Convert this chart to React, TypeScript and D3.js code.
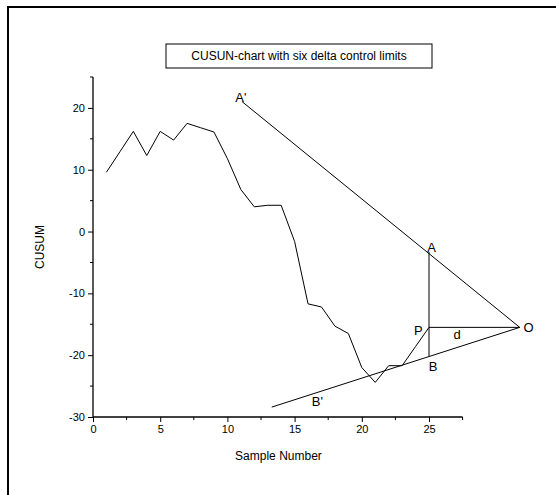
import React, { useEffect, useRef } from 'react'
import * as d3 from 'd3'

// CUSUM values, samples 1..25
const samples = [1, 2, 3, 4, 5, 6, 7, 8, 9, 10, 11, 12, 13, 14, 15, 16, 17, 18, 19, 20, 21, 22, 23, 24, 25]
const cusum = [9.6, 12.9, 16.2, 12.3, 16.2, 14.8, 17.5, 16.8, 16.1, 11.8, 6.8, 4.0, 4.25, 4.25, -1.6, -11.7, -12.2, -15.3, -16.5, -22.0, -24.4, -21.7, -21.7, -18.6, -15.5]

// V-mask geometry (data coords)
const maskNames = ['A\'', 'B\'', 'O', 'P', 'A', 'B']
const maskX = [11.1, 13.3, 31.75, 25, 25, 25]
const maskY = [21.0, -28.4, -15.5, -15.5, -3.3, -20.2]
const maskSegments = [['A\'', 'O'], ['B\'', 'O'], ['P', 'O'], ['A', 'B']]

// annotation text (data coords of label centre)
const labelText = ['A\'', 'A', 'P', 'd', 'O', 'B', 'B\'']
const labelX = [11.0, 25.2, 24.2, 27.1, 32.4, 25.3, 16.7]
const labelY = [21.7, -2.6, -16.0, -16.7, -15.55, -21.9, -27.5]

const xMajor = [0, 5, 10, 15, 20, 25]
const xMinor = [2.5, 7.5, 12.5, 17.5, 22.5, 27.5]
const yMajor = [-30, -20, -10, 0, 10, 20]
const yMinor = [-25, -15, -5, 5, 15, 25]

const title = 'CUSUN-chart with six delta control limits'

export default function App() {
    const svgRef = useRef<SVGSVGElement>(null)
    const width = 556
    const height = 495

    useEffect(() => {
        const svg = d3.select(svgRef.current)
        svg.selectAll('*').remove()
        svg.attr('font-family', 'Liberation Sans, Arial, sans-serif')

        const x = d3.scaleLinear().domain([0, 27.5]).range([93, 462.6])
        const y = d3.scaleLinear().domain([-30, 25]).range([417, 77])

        // outer frame
        svg.append('path')
            .attr('d', 'M8,495V7H556')
            .attr('fill', 'none')
            .attr('stroke', '#000')
            .attr('stroke-width', 2)

        // title box
        svg.append('rect')
            .attr('x', 166).attr('y', 44)
            .attr('width', 266).attr('height', 24)
            .attr('fill', '#fff').attr('stroke', '#000').attr('stroke-width', 1)
        svg.append('text')
            .attr('x', 299).attr('y', 60)
            .attr('text-anchor', 'middle')
            .attr('font-size', 12)
            .text(title)

        // x axis
        const gx = svg.append('g').attr('transform', 'translate(0,417)')
        gx.call(d3.axisBottom(x).tickValues(xMajor).tickSize(5).tickPadding(3).tickFormat(d => String(d)))
        gx.selectAll('text').attr('font-size', 11).attr('font-family', 'Liberation Sans, Arial, sans-serif')
        gx.select('.domain').attr('d', `M${ x(0) },0H${ x(27.5) }`).attr('stroke-width', 1.3)
        gx.append('g').selectAll('line').data(xMinor).join('line')
            .attr('x1', d => x(d)).attr('x2', d => x(d))
            .attr('y1', 0).attr('y2', 3)
            .attr('stroke', '#000')

        // y axis
        const gy = svg.append('g').attr('transform', 'translate(93,0)')
        gy.call(d3.axisLeft(y).tickValues(yMajor).tickSize(5).tickPadding(3).tickFormat(d => String(d)))
        gy.selectAll('text').attr('font-size', 11).attr('font-family', 'Liberation Sans, Arial, sans-serif')
        gy.select('.domain').attr('d', `M0,${ y(-30) }V${ y(25) }`).attr('stroke-width', 1.3)
        gy.append('g').selectAll('line').data(yMinor).join('line')
            .attr('y1', d => y(d)).attr('y2', d => y(d))
            .attr('x1', 0).attr('x2', -3)
            .attr('stroke', '#000')

        // axis titles
        svg.append('text')
            .attr('transform', `translate(44,${ y(-2.5) }) rotate(-90)`)
            .attr('text-anchor', 'middle')
            .attr('font-size', 12)
            .text('CUSUM')
        svg.append('text')
            .attr('x', x(13.8)).attr('y', 460)
            .attr('text-anchor', 'middle')
            .attr('font-size', 12)
            .text('Sample Number')

        // cusum line
        const line = d3.line<number>()
            .x((d, i) => x(samples[i]))
            .y(d => y(d))
        svg.append('path')
            .datum(cusum)
            .attr('d', line)
            .attr('fill', 'none')
            .attr('stroke', '#000')
            .attr('stroke-width', 1)

        // V-mask
        const pt = (name: string) => {
            const i = maskNames.indexOf(name)
            return [x(maskX[i]), y(maskY[i])]
        }
        svg.append('g').selectAll('line').data(maskSegments).join('line')
            .attr('x1', d => pt(d[0])[0]).attr('y1', d => pt(d[0])[1])
            .attr('x2', d => pt(d[1])[0]).attr('y2', d => pt(d[1])[1])
            .attr('stroke', '#000')
            .attr('stroke-width', 1)

        svg.append('g').selectAll('text').data(labelText).join('text')
            .attr('x', (d, i) => x(labelX[i]))
            .attr('y', (d, i) => y(labelY[i]) + 4.5)
            .attr('text-anchor', 'middle')
            .attr('font-size', 13)
            .text(d => d)
    }, [])

    return <svg ref={ svgRef } width={ width } height={ height }
                style={ { position: 'absolute', left: 0, top: 0, background: '#fff' } }/>
}
